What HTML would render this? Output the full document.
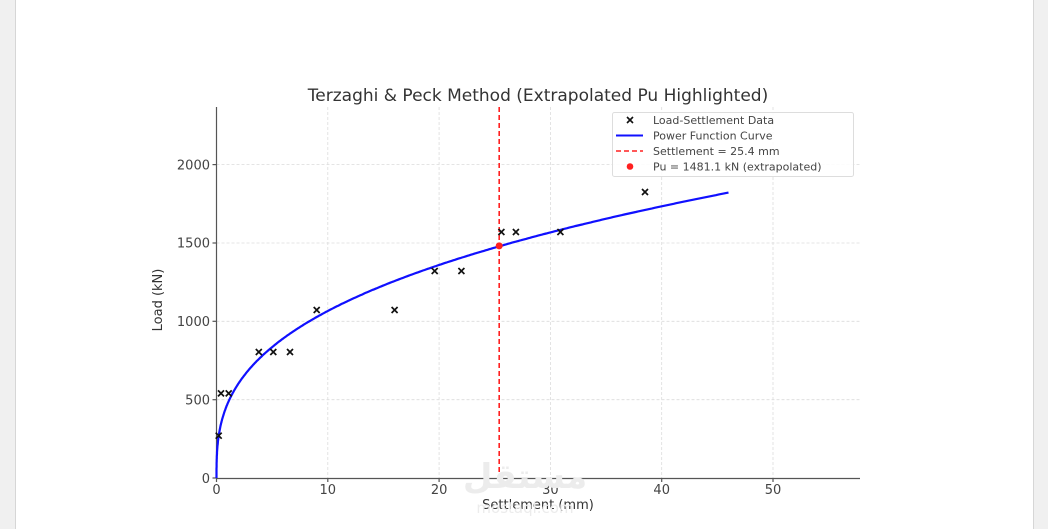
<!DOCTYPE html>
<html><head><meta charset="utf-8"><style>
html,body{margin:0;padding:0;background:#fff;}
svg{display:block;font-family:"DejaVu Sans","Liberation Sans",sans-serif;}
</style></head><body>
<svg width="1048" height="529" viewBox="0 0 1048 529" xmlns="http://www.w3.org/2000/svg">
<rect x="0" y="0" width="1048" height="529" fill="#fff"/>
<rect x="0" y="0" width="15" height="529" fill="#f0f0f0"/>
<rect x="1034" y="0" width="14" height="529" fill="#f0f0f0"/>
<line x1="15.5" y1="0" x2="15.5" y2="529" stroke="#d6d6d6"/>
<line x1="1033.5" y1="0" x2="1033.5" y2="529" stroke="#d6d6d6"/>
<g stroke="#dcdcdc" stroke-dasharray="3,2" stroke-width="0.8">
<line x1="327.8" y1="107" x2="327.8" y2="478"/>
<line x1="439.1" y1="107" x2="439.1" y2="478"/>
<line x1="550.4" y1="107" x2="550.4" y2="478"/>
<line x1="661.7" y1="107" x2="661.7" y2="478"/>
<line x1="773" y1="107" x2="773" y2="478"/>
<line x1="216.5" y1="399.7" x2="860" y2="399.7"/>
<line x1="216.5" y1="321.3" x2="860" y2="321.3"/>
<line x1="216.5" y1="243" x2="860" y2="243"/>
<line x1="216.5" y1="164.6" x2="860" y2="164.6"/>
</g>
<g stroke="#555" stroke-width="1.2">
<line x1="216.5" y1="107" x2="216.5" y2="478.5"/>
<line x1="216" y1="478.5" x2="860" y2="478.5"/>
<line x1="216.5" y1="478" x2="216.5" y2="482"/>
<line x1="327.8" y1="478" x2="327.8" y2="482"/>
<line x1="439.1" y1="478" x2="439.1" y2="482"/>
<line x1="550.4" y1="478" x2="550.4" y2="482"/>
<line x1="661.7" y1="478" x2="661.7" y2="482"/>
<line x1="773" y1="478" x2="773" y2="482"/>
<line x1="212.5" y1="478" x2="216.5" y2="478"/>
<line x1="212.5" y1="399.7" x2="216.5" y2="399.7"/>
<line x1="212.5" y1="321.3" x2="216.5" y2="321.3"/>
<line x1="212.5" y1="243" x2="216.5" y2="243"/>
<line x1="212.5" y1="164.6" x2="216.5" y2="164.6"/>
</g>
<g font-size="13" fill="#444" text-anchor="middle">
<text x="216.5" y="494">0</text>
<text x="327.8" y="494">10</text>
<text x="439.1" y="494">20</text>
<text x="550.4" y="494">30</text>
<text x="661.7" y="494">40</text>
<text x="773" y="494">50</text>
</g>
<g font-size="13" fill="#444" text-anchor="end">
<text x="210" y="483">0</text>
<text x="210" y="404.5">500</text>
<text x="210" y="326">1000</text>
<text x="210" y="247.5">1500</text>
<text x="210" y="169.5">2000</text>
</g>
<text x="538" y="509" font-size="13" fill="#333" text-anchor="middle">Settlement (mm)</text>
<text x="162" y="300" font-size="13" fill="#333" text-anchor="middle" transform="rotate(-90 162 300)">Load (kN)</text>
<text x="538" y="101" font-size="17" fill="#333" text-anchor="middle">Terzaghi &amp; Peck Method (Extrapolated Pu Highlighted)</text>
<polyline id="c" fill="none" stroke="#1010ff" stroke-width="2.2" points=""/>
<line x1="499.2" y1="107" x2="499.2" y2="478" stroke="#ff2020" stroke-width="1.6" stroke-dasharray="5,3"/>
<circle cx="499.2" cy="245.9" r="3.5" fill="#ff2020"/>
<path fill="none" stroke="#111" stroke-width="1.7" d="
M215.7 432.7l6 6m0 -6l-6 6
M218 390.4l6 6m0 -6l-6 6
M225.7 390.4l6 6m0 -6l-6 6
M255.8 349l6 6m0 -6l-6 6
M270.3 349l6 6m0 -6l-6 6
M287 349l6 6m0 -6l-6 6
M313.7 307l6 6m0 -6l-6 6
M391.6 307l6 6m0 -6l-6 6
M431.7 268l6 6m0 -6l-6 6
M458.4 268l6 6m0 -6l-6 6
M498.4 229l6 6m0 -6l-6 6
M512.9 229l6 6m0 -6l-6 6
M557.4 229l6 6m0 -6l-6 6
M642 189l6 6m0 -6l-6 6"/>
<rect x="612.5" y="112.5" width="241" height="64" rx="2" fill="#fff" fill-opacity="0.85" stroke="#ddd"/>
<path stroke="#111" stroke-width="1.6" d="M627 117l6 6m0 -6l-6 6"/>
<line x1="616" y1="135.5" x2="643" y2="135.5" stroke="#1010ff" stroke-width="2"/>
<line x1="616" y1="151" x2="643" y2="151" stroke="#ff2020" stroke-width="1.6" stroke-dasharray="5,3"/>
<circle cx="630" cy="166.5" r="3.3" fill="#ff2020"/>
<g font-size="11" fill="#444">
<text x="653" y="124">Load-Settlement Data</text>
<text x="653" y="139.5">Power Function Curve</text>
<text x="653" y="155">Settlement = 25.4 mm</text>
<text x="653" y="170.5">Pu = 1481.1 kN (extrapolated)</text>
</g>
<text x="525" y="488" font-size="34" fill="#ececec" text-anchor="middle" font-weight="bold">مستقل</text>
<text x="525" y="513" font-size="15" fill="#ececec" text-anchor="middle">mostaql.com</text>
<script>
var X=s=>216.5+s*11.13, Y=p=>478-p*0.1567;
var pts=[];for(var i=0;i<=400;i++){var s=46*Math.pow(i/400,2);pts.push(X(s).toFixed(1)+","+Y(475*Math.pow(s,0.351)).toFixed(1));}
document.getElementById('c').setAttribute('points',pts.join(' '));
</script>
</svg>
</body></html>
